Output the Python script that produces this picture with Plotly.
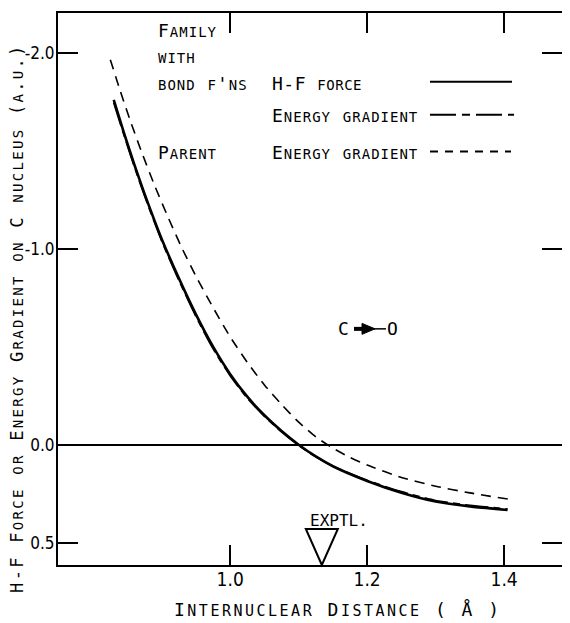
import plotly.graph_objects as go

# ---------------- data ----------------
R_FAMILY = [0.830, 0.845, 0.860, 0.875, 0.900, 0.925, 0.950, 0.975, 1.000, 1.025,
            1.050, 1.075, 1.100, 1.125, 1.150, 1.200, 1.250, 1.300, 1.350, 1.405]
HF_FORCE = [-1.76, -1.59, -1.43, -1.28, -1.05, -0.85, -0.665, -0.50, -0.36, -0.245,
            -0.15, -0.07, 0.00, 0.06, 0.11, 0.185, 0.245, 0.29, 0.315, 0.333]
FAMILY_GRADIENT = [-1.745, -1.58, -1.42, -1.27, -1.04, -0.84, -0.655, -0.49, -0.352, -0.238,
                   -0.145, -0.066, 0.004, 0.062, 0.11, 0.182, 0.24, 0.285, 0.31, 0.328]

R_PARENT = [0.825, 0.840, 0.855, 0.870, 0.890, 0.910, 0.930, 0.950, 0.975, 1.000,
            1.025, 1.050, 1.075, 1.100, 1.125, 1.150, 1.175, 1.200, 1.250, 1.300,
            1.350, 1.408]
PARENT_GRADIENT = [-1.965, -1.80, -1.645, -1.50, -1.32, -1.155, -1.00, -0.86, -0.70, -0.55,
                   -0.42, -0.305, -0.205, -0.115, -0.04, 0.018, 0.065, 0.104, 0.167, 0.212,
                   0.246, 0.279]

EXPTL_R = 1.128

X_TICKS = [1.0, 1.2, 1.4]
X_TICKTEXT = ["1.0", "1.2", "1.4"]
Y_TICKS = [-2.0, -1.0, 0.0, 0.5]
Y_TICKTEXT = ["-2.0", "-1.0", "0.0", "0.5"]

# ---------------- layout helpers ----------------
W, H = 570, 623
ML, MR, MT, MB = 50, 16, 3, 66
PW = W - ML - MR
PH = H - MT - MB
FONT = "DejaVu Sans Mono"
NUMFONT = "Liberation Sans Narrow, DejaVu Sans Condensed, Liberation Sans, sans-serif"
BIG = 18
SMALL = 14


def px(x):
    return (x - ML) / PW


def py(y):
    return (H - MB - y) / PH


def sc(s, big=BIG, small=SMALL, ls=1.0):
    """small caps: lowercase letters are drawn as small capitals"""
    runs = []
    for ch in s:
        low = ch.islower()
        if runs and runs[-1][0] == low:
            runs[-1][1] += ch
        else:
            runs.append([low, ch])
    out = []
    for low, t in runs:
        size = small if low else big
        txt = t.upper() if low else t
        out.append(f"<span style='font-size:{size}px;letter-spacing:{ls}px'>{txt}</span>")
    return "".join(out)


fig = go.Figure()

fig.add_trace(go.Scatter(x=R_FAMILY, y=HF_FORCE, mode="lines",
                         line=dict(color="black", width=2.6, shape="spline", smoothing=0.6),
                         showlegend=False, hoverinfo="skip"))
fig.add_trace(go.Scatter(x=R_FAMILY, y=FAMILY_GRADIENT, mode="lines",
                         line=dict(color="black", width=1.8, dash="24px,5px,7px,5px",
                                   shape="spline", smoothing=0.6),
                         showlegend=False, hoverinfo="skip"))
fig.add_trace(go.Scatter(x=R_PARENT, y=PARENT_GRADIENT, mode="lines",
                         line=dict(color="black", width=1.6, dash="10px,7px",
                                   shape="spline", smoothing=0.6),
                         showlegend=False, hoverinfo="skip"))

ann = []


def text(x, y, t, size=BIG, anchor="left"):
    ann.append(dict(x=px(x), y=py(y), xref="paper", yref="paper", text=t,
                    showarrow=False, xanchor=anchor, yanchor="middle",
                    font=dict(family=FONT, size=size, color="black")))


text(148, 21, sc("Family"))
text(148, 48, sc("with"))
text(148, 74, sc("bond f'ns"))
text(262, 74, sc("H-F force", ls=0.5))
text(262, 106, sc("Energy gradient"))
text(148, 143, sc("Parent"))
text(262, 143, sc("Energy gradient"))
text(335, 320, "C", anchor="center")
text(384, 320, "O", anchor="center")
text(331, 512, "EXPTL.", size=16, anchor="center")

# axis titles
ann.append(dict(x=px(-3), y=py(310), xref="paper", yref="paper", textangle=-90,
                text=sc("H-F Force or Energy Gradient on C nucleus (a.u.)", 17, 14, 2.3),
                showarrow=False, xanchor="left", yanchor="middle",
                font=dict(family=FONT, size=17, color="black")))
ann.append(dict(x=px(330), y=py(602), xref="paper", yref="paper",
                text=sc("Internuclear Distance ( Å )", 18, 15, 2.5),
                showarrow=False, xanchor="center", yanchor="middle",
                font=dict(family=FONT, size=BIG, color="black")))

shapes = [
    # legend samples
    dict(type="line", xref="paper", yref="paper", x0=px(422), x1=px(504), y0=py(72), y1=py(72),
         line=dict(color="black", width=2.2)),
    dict(type="line", xref="paper", yref="paper", x0=px(422), x1=px(506), y0=py(105), y1=py(105),
         line=dict(color="black", width=2, dash="26px,6px,8px,6px")),
    dict(type="line", xref="paper", yref="paper", x0=px(422), x1=px(503), y0=py(142), y1=py(142),
         line=dict(color="black", width=2, dash="8px,7px")),
    # C -> O arrow
    dict(type="line", xref="paper", yref="paper", x0=px(346), x1=px(356), y0=py(320), y1=py(320),
         line=dict(color="black", width=4)),
    dict(type="path", xref="paper", yref="paper",
         path=f"M {px(354)},{py(314.5)} L {px(367)},{py(320)} L {px(354)},{py(325.5)} Z",
         fillcolor="black", line=dict(color="black", width=1)),
    dict(type="line", xref="paper", yref="paper", x0=px(366), x1=px(378), y0=py(320), y1=py(320),
         line=dict(color="black", width=1.5)),
    # experimental marker triangle (apex on the axis)
    dict(type="path", xref="x", yref="paper", xsizemode="pixel", xanchor=EXPTL_R,
         ysizemode="pixel", yanchor=0,
         path="M -12,36 L 20,36 L 4,0 Z", fillcolor="rgba(0,0,0,0)",
         line=dict(color="black", width=2)),
]

fig.update_layout(
    width=W, height=H,
    margin=dict(l=ML, r=MR, t=MT, b=MB, pad=0),
    paper_bgcolor="white", plot_bgcolor="white",
    showlegend=False,
    font=dict(family=FONT, size=BIG, color="black"),
    annotations=ann, shapes=shapes,
)
fig.update_xaxes(range=[0.7486, 1.4845], tickvals=X_TICKS, ticktext=X_TICKTEXT,
                 ticks="inside", ticklen=20, tickwidth=2, tickcolor="black",
                 showline=True, linewidth=2, linecolor="black", mirror="allticks",
                 showgrid=False, zeroline=False, ticklabelstandoff=-4,
                 tickfont=dict(family=NUMFONT, size=19, color="black"))
fig.update_yaxes(range=[0.614, -2.203], tickvals=Y_TICKS, ticktext=Y_TICKTEXT,
                 ticks="inside", ticklen=20, tickwidth=2, tickcolor="black",
                 showline=True, linewidth=2, linecolor="black", mirror="allticks",
                 showgrid=False, zeroline=True, zerolinewidth=1.6, zerolinecolor="black",
                 ticklabelstandoff=-2,
                 tickfont=dict(family=NUMFONT, size=17, color="black"))

fig.write_html("out.html")
